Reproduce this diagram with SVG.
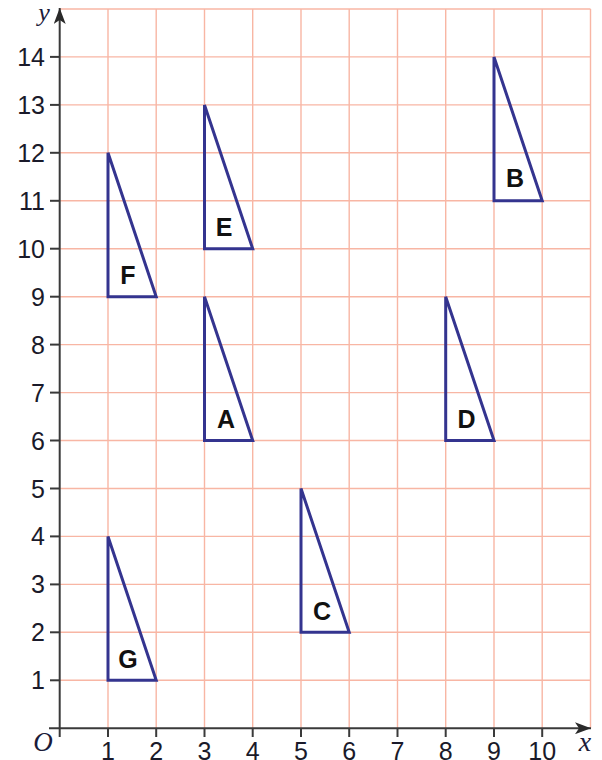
<svg xmlns="http://www.w3.org/2000/svg" width="602" height="760" viewBox="0 0 602 760">
<style>
.grid line{stroke:#f8b6a4;stroke-width:1.4}
.axis{stroke:#3a3a3a;stroke-width:2;fill:none}
.tick{stroke:#3a3a3a;stroke-width:2}
.num{font-family:"Liberation Sans",Arial,sans-serif;font-size:25px;fill:#1a1a2a}
.ylab{text-anchor:end}
.xlab{text-anchor:middle}
.it{font-family:"Liberation Serif","Times New Roman",serif;font-style:italic;fill:#1b1b3a}
.tri{fill:none;stroke:#34348f;stroke-width:3;stroke-linejoin:miter}
.lbl{font-family:"Liberation Sans",Arial,sans-serif;font-weight:bold;font-size:25px;fill:#111;text-anchor:middle}
</style>
<defs>
<marker id="arr" viewBox="0 0 16 12" refX="16" refY="6" markerWidth="16" markerHeight="12" markerUnits="userSpaceOnUse" orient="auto">
<path d="M0,0 L16,6 L0,12 L4,6 z" fill="#2a2a2a"/>
</marker>
</defs>
<rect width="602" height="760" fill="#fff"/>
<g class="grid">
<line x1="108" y1="9" x2="108" y2="728.2"/>
<line x1="156.2" y1="9" x2="156.2" y2="728.2"/>
<line x1="204.5" y1="9" x2="204.5" y2="728.2"/>
<line x1="252.7" y1="9" x2="252.7" y2="728.2"/>
<line x1="301" y1="9" x2="301" y2="728.2"/>
<line x1="349.2" y1="9" x2="349.2" y2="728.2"/>
<line x1="397.5" y1="9" x2="397.5" y2="728.2"/>
<line x1="445.7" y1="9" x2="445.7" y2="728.2"/>
<line x1="494" y1="9" x2="494" y2="728.2"/>
<line x1="542.2" y1="9" x2="542.2" y2="728.2"/>
<line x1="590.5" y1="9" x2="590.5" y2="728.2"/>
<line x1="59.7" y1="680.3" x2="590.5" y2="680.3"/>
<line x1="59.7" y1="632.3" x2="590.5" y2="632.3"/>
<line x1="59.7" y1="584.4" x2="590.5" y2="584.4"/>
<line x1="59.7" y1="536.4" x2="590.5" y2="536.4"/>
<line x1="59.7" y1="488.5" x2="590.5" y2="488.5"/>
<line x1="59.7" y1="440.5" x2="590.5" y2="440.5"/>
<line x1="59.7" y1="392.6" x2="590.5" y2="392.6"/>
<line x1="59.7" y1="344.6" x2="590.5" y2="344.6"/>
<line x1="59.7" y1="296.7" x2="590.5" y2="296.7"/>
<line x1="59.7" y1="248.7" x2="590.5" y2="248.7"/>
<line x1="59.7" y1="200.8" x2="590.5" y2="200.8"/>
<line x1="59.7" y1="152.8" x2="590.5" y2="152.8"/>
<line x1="59.7" y1="104.9" x2="590.5" y2="104.9"/>
<line x1="59.7" y1="56.9" x2="590.5" y2="56.9"/>
<line x1="59.7" y1="9" x2="590.5" y2="9"/>
</g>
<g id="axes">
<line class="axis" x1="59.7" y1="737" x2="59.7" y2="8" marker-end="url(#arr)"/>
<line class="axis" x1="49" y1="728.2" x2="591" y2="728.2" marker-end="url(#arr)"/>
<g class="tick">
<line x1="108" y1="728.2" x2="108" y2="737"/>
<line x1="156.2" y1="728.2" x2="156.2" y2="737"/>
<line x1="204.5" y1="728.2" x2="204.5" y2="737"/>
<line x1="252.7" y1="728.2" x2="252.7" y2="737"/>
<line x1="301" y1="728.2" x2="301" y2="737"/>
<line x1="349.2" y1="728.2" x2="349.2" y2="737"/>
<line x1="397.5" y1="728.2" x2="397.5" y2="737"/>
<line x1="445.7" y1="728.2" x2="445.7" y2="737"/>
<line x1="494" y1="728.2" x2="494" y2="737"/>
<line x1="542.2" y1="728.2" x2="542.2" y2="737"/>
<line x1="50" y1="680.3" x2="59.7" y2="680.3"/>
<line x1="50" y1="632.3" x2="59.7" y2="632.3"/>
<line x1="50" y1="584.4" x2="59.7" y2="584.4"/>
<line x1="50" y1="536.4" x2="59.7" y2="536.4"/>
<line x1="50" y1="488.5" x2="59.7" y2="488.5"/>
<line x1="50" y1="440.5" x2="59.7" y2="440.5"/>
<line x1="50" y1="392.6" x2="59.7" y2="392.6"/>
<line x1="50" y1="344.6" x2="59.7" y2="344.6"/>
<line x1="50" y1="296.7" x2="59.7" y2="296.7"/>
<line x1="50" y1="248.7" x2="59.7" y2="248.7"/>
<line x1="50" y1="200.8" x2="59.7" y2="200.8"/>
<line x1="50" y1="152.8" x2="59.7" y2="152.8"/>
<line x1="50" y1="104.9" x2="59.7" y2="104.9"/>
<line x1="50" y1="56.9" x2="59.7" y2="56.9"/>
</g>
<g class="num ylab">
<text x="45" y="689.3">1</text>
<text x="45" y="641.3">2</text>
<text x="45" y="593.4">3</text>
<text x="45" y="545.4">4</text>
<text x="45" y="497.5">5</text>
<text x="45" y="449.5">6</text>
<text x="45" y="401.6">7</text>
<text x="45" y="353.6">8</text>
<text x="45" y="305.7">9</text>
<text x="45" y="257.7">10</text>
<text x="45" y="209.8">11</text>
<text x="45" y="161.8">12</text>
<text x="45" y="113.9">13</text>
<text x="45" y="65.9">14</text>
</g>
<g class="num xlab">
<text x="108" y="760">1</text>
<text x="156.2" y="760">2</text>
<text x="204.5" y="760">3</text>
<text x="252.7" y="760">4</text>
<text x="301" y="760">5</text>
<text x="349.2" y="760">6</text>
<text x="397.5" y="760">7</text>
<text x="445.7" y="760">8</text>
<text x="494" y="760">9</text>
<text x="542.2" y="760">10</text>
</g>
<text class="it" x="44" y="21" font-size="26" text-anchor="middle">y</text>
<text class="it" x="43" y="751" font-size="27" text-anchor="middle">O</text>
<text class="it" x="585" y="751" font-size="28" text-anchor="middle">x</text>
</g>
<g id="triA"><polygon class="tri" points="204.5,440.5 204.5,296.7 252.7,440.5"/><text class="lbl" x="226" y="428">A</text></g>
<g id="triB"><polygon class="tri" points="494,200.8 494,56.9 542.2,200.8"/><text class="lbl" x="515" y="187">B</text></g>
<g id="triC"><polygon class="tri" points="301,632.3 301,488.5 349.2,632.3"/><text class="lbl" x="322" y="620">C</text></g>
<g id="triD"><polygon class="tri" points="445.7,440.5 445.7,296.7 494,440.5"/><text class="lbl" x="466.5" y="428">D</text></g>
<g id="triE"><polygon class="tri" points="204.5,248.7 204.5,104.9 252.7,248.7"/><text class="lbl" x="224" y="236">E</text></g>
<g id="triF"><polygon class="tri" points="108,296.7 108,152.8 156.2,296.7"/><text class="lbl" x="128" y="284">F</text></g>
<g id="triG"><polygon class="tri" points="108,680.3 108,536.4 156.2,680.3"/><text class="lbl" x="128" y="668">G</text></g>
</svg>
